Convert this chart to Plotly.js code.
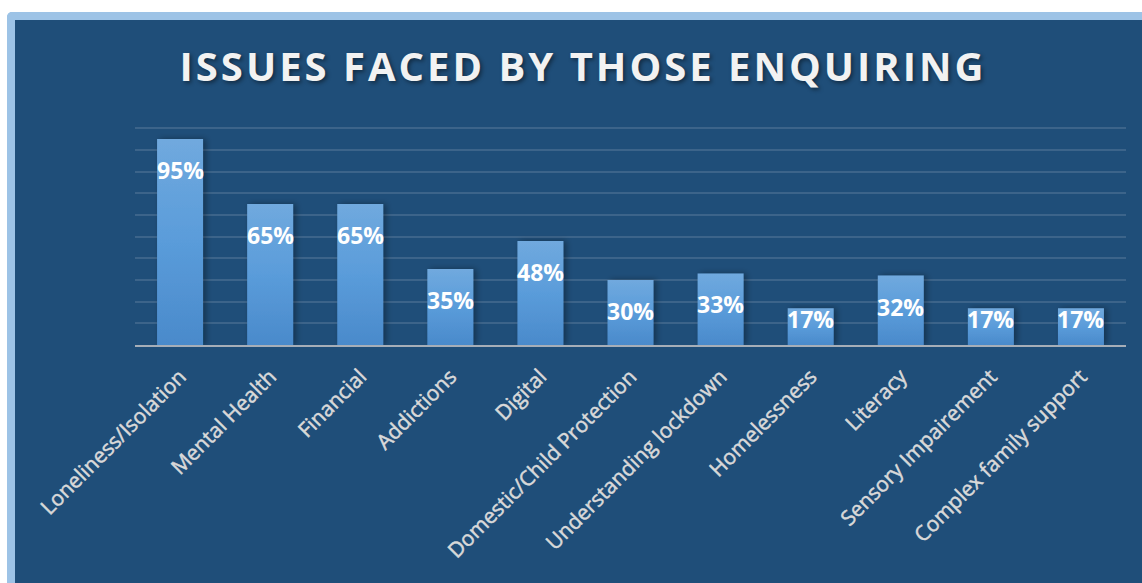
<!DOCTYPE html>
<html>
<head>
<meta charset="utf-8">
<script src="https://cdn.plot.ly/plotly-3.0.1.min.js"></script>
<style>
  html, body { margin: 0; padding: 0; background: #ffffff; overflow: hidden; }
  #frame {
    position: absolute; left: 7px; top: 12px; width: 1135px; height: 571px;
    border-left: 8px solid #9DC3E6; border-top: 8px solid #9DC3E6;
    border-top-left-radius: 5px; box-sizing: border-box; background: #1F4E79;
  }
  #chart { width: 1127px; height: 563px; }
</style>
</head>
<body>
<div id="frame"><div id="chart"></div></div>
<script>
const categories = ["Loneliness/Isolation", "Mental Health", "Financial", "Addictions", "Digital",
  "Domestic/Child Protection", "Understanding lockdown", "Homelessness", "Literacy",
  "Sensory Impairement", "Complex family support"];
const values = [95, 65, 65, 35, 48, 30, 33, 17, 32, 17, 17];
const labels = values.map(v => v + "%");
const titleText = "ISSUES FACED BY THOSE ENQUIRING";

const W = 1127, H = 563;
const margin = {l: 120, r: 16, t: 106, b: 238};
const yMax = 101;
const plotH = H - margin.t - margin.b;
const pxPerUnit = plotH / yMax;

const annotations = values.map((v, i) => {
  const barPx = v * pxPerUnit;
  const off = Math.min(31, barPx - 26);
  return {
    x: categories[i], y: v, xref: "x", yref: "y",
    text: "<b>" + labels[i] + "</b>", showarrow: false,
    yanchor: "middle", yshift: -off,
    font: {family: "Open Sans, sans-serif", size: 23, color: "#FFFFFF"}
  };
});

const trace = {
  type: "bar", x: categories, y: values,
  marker: {color: "#5B9BD5", line: {width: 0}},
  hoverinfo: "none"
};

const layout = {
  width: W, height: H,
  margin: margin,
  paper_bgcolor: "#1F4E79", plot_bgcolor: "#1F4E79",
  bargap: 0.49,
  showlegend: false,
  title: {
    text: "<b>" + titleText + "</b>",
    x: 0.504, xanchor: "center", y: 0.9165, yanchor: "middle",
    font: {family: "Open Sans, sans-serif", size: 40, color: "#F2F2F2",
           shadow: "2px 2px 4px rgba(0,0,0,0.45)"}
  },
  xaxis: {
    tickangle: -45, showgrid: false, showline: true, linecolor: "#A6AEB8", linewidth: 2,
    ticks: "outside", ticklen: 9, tickcolor: "rgba(0,0,0,0)",
    tickfont: {family: "Open Sans, sans-serif", size: 21, color: "#D9D9D9"},
    fixedrange: true, automargin: false
  },
  yaxis: {
    range: [0, yMax], dtick: 10, showticklabels: false, zeroline: false,
    showgrid: true, gridcolor: "rgba(255,255,255,0.13)", gridwidth: 2, fixedrange: true
  },
  annotations: annotations
};

Plotly.newPlot("chart", [trace], layout, {displayModeBar: false, staticPlot: true}).then(gd => {
  const svg = gd.querySelector(".main-svg");
  const ns = "http://www.w3.org/2000/svg";
  let defs = svg.querySelector("defs");
  if (!defs) { defs = document.createElementNS(ns, "defs"); svg.insertBefore(defs, svg.firstChild); }
  const grad = document.createElementNS(ns, "linearGradient");
  grad.setAttribute("id", "barGrad");
  grad.setAttribute("x1", "0"); grad.setAttribute("y1", "0");
  grad.setAttribute("x2", "0"); grad.setAttribute("y2", "1");
  [["0", "#70A9DE"], ["0.5", "#5A9CDA"], ["1", "#4A8ACB"]].forEach(([o, c]) => {
    const s = document.createElementNS(ns, "stop");
    s.setAttribute("offset", o); s.setAttribute("stop-color", c);
    grad.appendChild(s);
  });
  defs.appendChild(grad);
  const filt = document.createElementNS(ns, "filter");
  filt.setAttribute("id", "barShadow");
  filt.setAttribute("x", "-30%"); filt.setAttribute("y", "-10%");
  filt.setAttribute("width", "160%"); filt.setAttribute("height", "120%");
  const ds = document.createElementNS(ns, "feDropShadow");
  ds.setAttribute("dx", "3"); ds.setAttribute("dy", "0");
  ds.setAttribute("stdDeviation", "3");
  ds.setAttribute("flood-color", "#000000"); ds.setAttribute("flood-opacity", "0.35");
  filt.appendChild(ds);
  defs.appendChild(filt);
  gd.querySelectorAll(".bars .point path").forEach(p => {
    p.style.fill = "url(#barGrad)";
    p.style.filter = "url(#barShadow)";
  });
  gd.querySelectorAll(".xtick text").forEach(tx => {
    tx.style.stroke = "#D9D9D9";
    tx.style.strokeWidth = "0.5px";
  });
  const t = gd.querySelector(".gtitle");
  if (t) t.style.letterSpacing = "3px";
});
</script>
</body>
</html>
